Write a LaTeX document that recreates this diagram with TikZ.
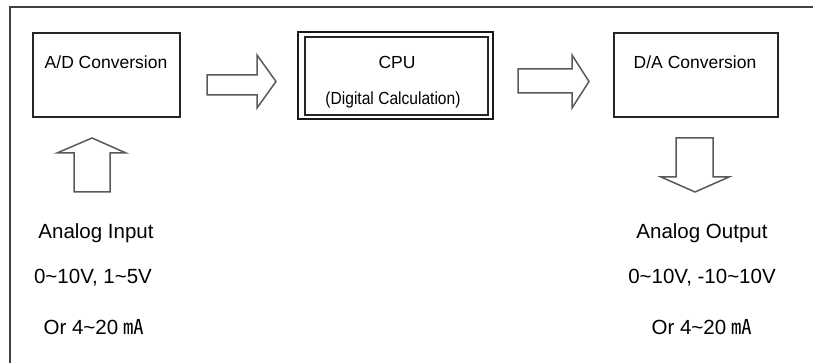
\documentclass[tikz,border=0pt]{standalone}
\usepackage{fontspec}
\setmainfont{Liberation Sans}
\newfontfamily\cjk{Noto Sans CJK KR}
\tikzset{
  boxline/.style={draw=black!85, line width=1.3pt},
  blockarrow/.style={draw=black!65, line width=1.5pt, line join=miter, fill=white},
  boxtext/.style={inner sep=0pt, font=\fontsize{17.5}{20}\selectfont, anchor=center},
  labeltext/.style={inner sep=0pt, font=\fontsize{20.5}{24}\selectfont, anchor=center},
}
\newcommand{\tl}{\textasciitilde}
\newcommand{\mAunit}{{\cjk ㎃}}
\begin{document}
\begin{tikzpicture}[x=1pt,y=-1pt]
\useasboundingbox (0,0) rectangle (813,363);
% frame
\draw[draw=black!75, line width=1.6pt] (10,363) -- (10,7) -- (813,7);
% boxes
\node[boxline, minimum width=147pt, minimum height=84pt, inner sep=0pt] (ad) at (106.5,75) {};
\node[draw=black!90, line width=2.2pt, minimum width=195pt, minimum height=87pt, inner sep=0pt] (cpuo) at (395.5,75.5) {};
\node[boxline, minimum width=183pt, minimum height=78pt, inner sep=0pt] (cpu) at (396.5,76) {};
\node[boxline, minimum width=164pt, minimum height=84pt, inner sep=0pt] (da) at (696,75) {};
% box texts
\node[boxtext] (adt) at (106,62) {A/D Conversion};
\node[boxtext] (cput) at (397,62) {CPU};
\node[boxtext, xscale=0.89] (cpus) at (393,100) {(Digital Calculation)};
\node[boxtext] (dat) at (695,62) {D/A Conversion};
% block arrows
\draw[blockarrow] (207,75) -- (257,75) -- (257,55) -- (276,81.5) -- (257,108) -- (257,95) -- (207,95) -- cycle;
\draw[blockarrow] (518,69) -- (572,69) -- (572,55) -- (589,81.5) -- (572,108) -- (572,93) -- (518,93) -- cycle;
\draw[blockarrow] (74,192) -- (74,153) -- (57,153) -- (92,138) -- (126,153) -- (110,153) -- (110,192) -- cycle;
\draw[blockarrow] (676,138) -- (713,138) -- (713,177) -- (729,177) -- (695,192) -- (661,177) -- (676,177) -- cycle;
% labels
\node[labeltext] (in1) at (96,233) {Analog Input};
\node[labeltext] (in2) at (93,278) {0\tl10V, 1\tl5V};
\node[labeltext] (in3) at (94,327) {Or 4\tl20 \mAunit};
\node[labeltext] (out1) at (702,233) {Analog Output};
\node[labeltext] (out2) at (702,278) {0\tl10V, -10\tl10V};
\node[labeltext] (out3) at (702,327) {Or 4\tl20 \mAunit};
\end{tikzpicture}
\end{document}
